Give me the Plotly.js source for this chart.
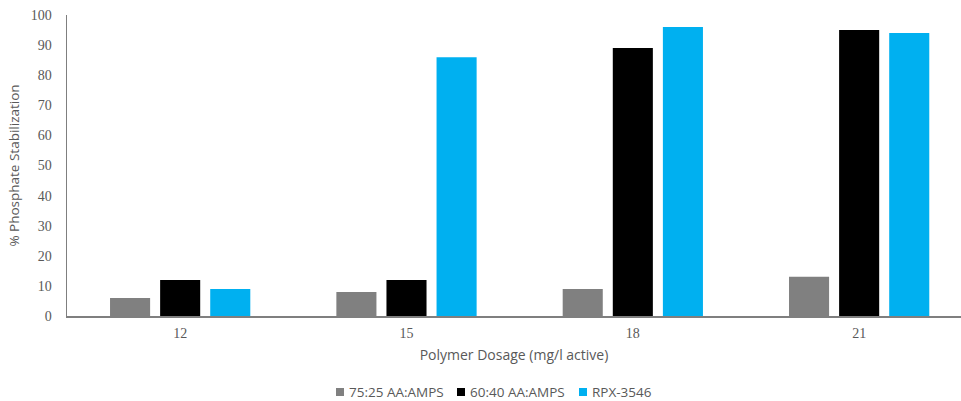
<!DOCTYPE html>
<html>
<head>
<meta charset="utf-8">
<script src="https://cdn.plot.ly/plotly-3.0.1.min.js"></script>
<style>html,body{margin:0;padding:0;background:#fff;}#chart{width:961px;height:401px;}</style>
</head>
<body>
<div id="chart"></div>
<script>
const categories = ["12", "15", "18", "21"];
const seriesNames = ["75:25 AA:AMPS", "60:40 AA:AMPS", "RPX-3546"];
const gray7525 = [6, 8, 9, 13];
const black6040 = [12, 12, 89, 95];
const blueRPX = [9, 86, 96, 94];
const yTicks = [0, 10, 20, 30, 40, 50, 60, 70, 80, 90, 100];

const colors = ["#808080", "#000000", "#00B0F0"];
const values = [gray7525, black6040, blueRPX];

const W = 961, H = 401;
const M = {l: 67, r: 0, t: 15, b: 85};
const plotW = W - M.l - M.r, plotH = H - M.t - M.b;
const px2paperX = px => (px - M.l) / plotW;
const px2paperY = py => (H - M.b - py) / plotH;

const traces = values.map((v, i) => ({
  type: "bar",
  x: categories,
  y: v,
  name: seriesNames[i],
  marker: {color: colors[i]},
  hoverinfo: "skip",
  showlegend: false
}));

// custom legend (Excel-style compact)
const legendMarkerLeft = [336, 457, 579];
const legendY = 392;
const shapes = [], annotations = [];
seriesNames.forEach((n, i) => {
  const x0 = legendMarkerLeft[i];
  shapes.push({type: "rect", xref: "paper", yref: "paper",
    x0: px2paperX(x0), x1: px2paperX(x0 + 8),
    y0: px2paperY(legendY + 4), y1: px2paperY(legendY - 4),
    fillcolor: colors[i], line: {width: 0}});
  annotations.push({xref: "paper", yref: "paper",
    x: px2paperX(x0 + 11), y: px2paperY(legendY),
    xanchor: "left", yanchor: "middle", showarrow: false,
    text: n, font: {family: "Open Sans, sans-serif", size: 13.5, color: "#595959"}});
});

const layout = {
  width: W,
  height: H,
  margin: M,
  paper_bgcolor: "#fff",
  plot_bgcolor: "#fff",
  barmode: "group",
  bargap: 0.336,
  bargroupgap: 0.2,
  showlegend: false,
  shapes: shapes,
  annotations: annotations,
  xaxis: {
    type: "category",
    range: [-0.5, 3.45],
    showline: true,
    linecolor: "#7f7f7f",
    linewidth: 1.5,
    ticks: "",
    showgrid: false,
    zeroline: false,
    ticklabelstandoff: 4,
    tickfont: {family: "Liberation Serif, DejaVu Serif, serif", size: 14, color: "#595959"},
    title: {text: "Polymer Dosage (mg/l active)", font: {family: "Open Sans, sans-serif", size: 14, color: "#595959"}, standoff: 10}
  },
  yaxis: {
    range: [0, 100],
    tickvals: yTicks,
    showline: true,
    linecolor: "#7f7f7f",
    linewidth: 1.5,
    ticks: "",
    showgrid: false,
    zeroline: false,
    ticklabelstandoff: 11,
    tickfont: {family: "Liberation Serif, DejaVu Serif, serif", size: 14, color: "#595959"},
    title: {text: "% Phosphate Stabilization", font: {family: "Open Sans, sans-serif", size: 13.5, color: "#595959"}, standoff: 8}
  }
};

Plotly.newPlot("chart", traces, layout, {displayModeBar: false, staticPlot: true});
</script>
</body>
</html>
